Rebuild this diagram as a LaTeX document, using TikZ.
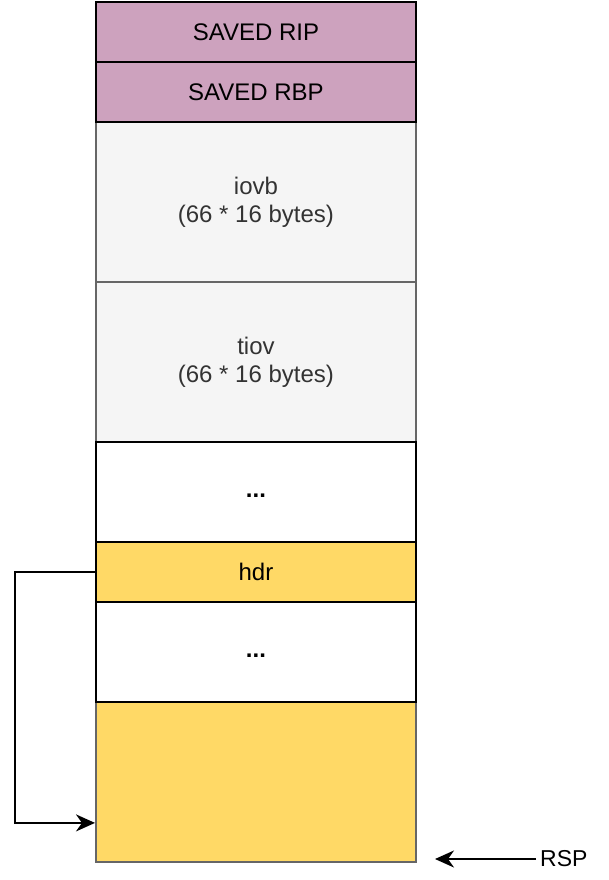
\documentclass[tikz,border=0pt]{standalone}
\usepackage{fontspec}
\setmainfont{Liberation Sans}
\usetikzlibrary{arrows.meta}
\definecolor{pur}{HTML}{CDA2BE}
\definecolor{yel}{HTML}{FFD966}
\definecolor{gfill}{HTML}{F5F5F5}
\definecolor{gline}{HTML}{666666}
\definecolor{gtext}{HTML}{333333}
\begin{document}
\begin{tikzpicture}[x=1pt,y=-1pt,
  cell/.style={draw=black, line width=1.9pt, minimum width=320pt, inner sep=0pt,
    anchor=north west, align=center, font=\fontsize{24}{28}\selectfont},
  graycell/.style={cell, draw=gline, fill=gfill, text=gtext},
  purcell/.style={cell, fill=pur, minimum height=60pt},
  whitecell/.style={cell, fill=white, minimum height=100pt, font=\fontsize{24}{28}\selectfont\bfseries},
  conn/.style={line width=1.9pt, -{Stealth[length=19pt,width=17pt,inset=6pt]}}
]
\useasboundingbox (0,0) rectangle (608,880);
% gray-stroked cells first
\node[graycell, minimum height=160pt] (iovb) at (95,121) {\raisebox{-2pt}{iovb}\\\raisebox{-2pt}{(66 * 16 bytes)}};
\node[graycell, minimum height=160pt] (tiov) at (95,281) {\raisebox{-2pt}{tiov}\\\raisebox{-2pt}{(66 * 16 bytes)}};
\node[graycell, fill=yel, minimum height=160pt] (bot) at (95,701) {};
% black-stroked cells
\node[purcell] (rip) at (95,1) {SAVED RIP};
\node[purcell] (rbp) at (95,61) {SAVED RBP};
\node[whitecell] (dots1) at (95,441) {\raisebox{-6pt}[0pt][0pt]{...}};
\node[cell, fill=yel, minimum height=60pt] (hdr) at (95,541) {hdr};
\node[whitecell] (dots2) at (95,601) {\raisebox{-6pt}[0pt][0pt]{...}};
% connectors
\draw[conn] (hdr.west) -- ++(-80,0) |- ([yshift=40pt]bot.south west);
\node[anchor=west, inner sep=4pt, font=\fontsize{23}{28}\selectfont] (rsp) at (536,859) {RSP};
\coordinate (rspt) at (435,859);
\draw[conn] (rsp.west) -- (rspt);
\end{tikzpicture}
\end{document}
